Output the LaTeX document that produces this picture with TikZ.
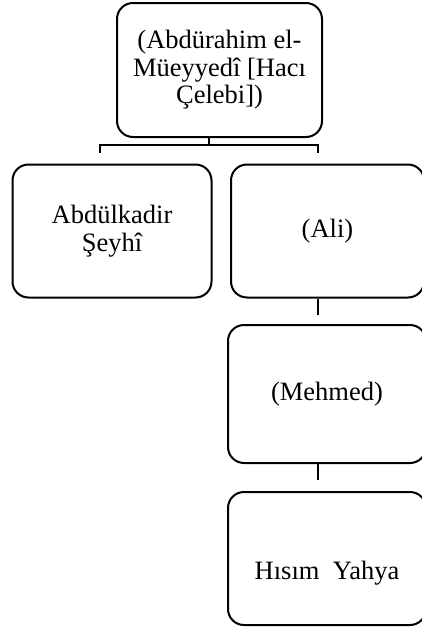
\documentclass[tikz,border=0pt]{standalone}
\usepackage{fontspec}
\setmainfont{Liberation Serif}
\usetikzlibrary{positioning}

\begin{document}
\begin{tikzpicture}[x=1pt, y=-1pt,
  person/.style={draw, line width=2pt, rounded corners=16pt, align=center,
    inner sep=0pt, font=\fontsize{26.5}{27.5}\selectfont},
  link/.style={draw, line width=2pt}]

\useasboundingbox (0,0) rectangle (422,627);

\node [person, minimum width=205pt, minimum height=134pt] (haci)   at (219.5, 70)
  {(Abdürahim el-\\Müeyyedî [Hacı\\Çelebi])};
\node [person, minimum width=199pt, minimum height=133pt] (seyhi)  at (112, 231)
  {Abdülkadir\\Şeyhî};
\node [person, minimum width=193pt, minimum height=133pt] (ali)    at (327.5, 231) {(Ali)};
\node [person, minimum width=198pt, minimum height=138pt] (mehmed) at (327, 394) {(Mehmed)};
\node [person, minimum width=198pt, minimum height=133pt,
       text height=41pt, text depth=0pt] (yahya) at (327, 558.5) {Hısım\ \ Yahya};

% -------- connectors -----------
\coordinate (bus)   at (209, 145);
\coordinate (drop1) at (100, 153);
\coordinate (drop2) at (318, 153);
\coordinate (stem1) at (318, 315);
\coordinate (stem2) at (318, 480);

\draw [link] (haci.south -| bus) -- (bus);
\draw [link] (drop1) |- (bus) -| (drop2);
\draw [link] (ali.south -| stem1) -- (stem1);
\draw [link] (mehmed.south -| stem2) -- (stem2);

\end{tikzpicture}
\end{document}
